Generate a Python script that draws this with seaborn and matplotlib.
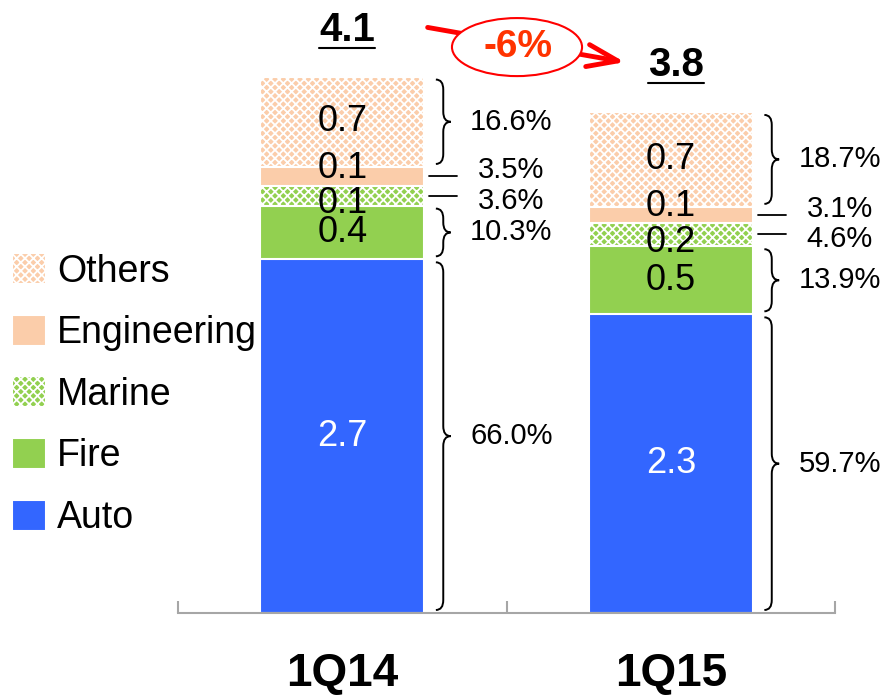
import numpy as np
import pandas as pd
import matplotlib.pyplot as plt
import matplotlib.patches as mpatches
from matplotlib.path import Path
import seaborn as sns


## data ##
quarters = ["1Q14", "1Q15"]
segments = ["Auto", "Fire", "Marine", "Engineering", "Others"]   # bottom -> top

auto = [2.70, 2.28]
fire = [0.41, 0.52]
marine = [0.15, 0.18]
engineering = [0.145, 0.12]
others = [0.69, 0.725]

value_labels = {
    "Auto": ["2.7", "2.3"],
    "Fire": ["0.4", "0.5"],
    "Marine": ["0.1", "0.2"],
    "Engineering": ["0.1", "0.1"],
    "Others": ["0.7", "0.7"],
}
pct_labels = {
    "Auto": ["66.0%", "59.7%"],
    "Fire": ["10.3%", "13.9%"],
    "Marine": ["3.6%", "4.6%"],
    "Engineering": ["3.5%", "3.1%"],
    "Others": ["16.6%", "18.7%"],
}
totals = ["4.1", "3.8"]
change = "-6%"


## style ##
sns.set_style("white")
plt.rcParams['font.family'] = ['Liberation Sans', 'DejaVu Sans']
plt.rcParams['text.color'] = 'black'
plt.rcParams['xtick.color'] = 'black'
plt.rcParams['hatch.linewidth'] = 1.3

colors = {"Auto": "#3366FF", "Fire": "#92D050", "Marine": "#92D050",
          "Engineering": "#FBCDAA", "Others": "#FBCDAA"}
hatches = {"Auto": None, "Fire": None, "Marine": "xxxx",
           "Engineering": None, "Others": "xxxx"}
# label nudges in pixels for the thin segments
nudge = {"Auto": 0, "Fire": 0, "Marine": -8, "Engineering": 8, "Others": 0}
pct_nudge = {"Auto": 0, "Fire": 0, "Marine": -5, "Engineering": 6, "Others": 0}
brace_segments = ["Auto", "Fire", "Others"]

values = {"Auto": auto, "Fire": fire, "Marine": marine,
          "Engineering": engineering, "Others": others}

W, H = 894, 697
px_per_y = 131.0
fig = plt.figure(figsize=(W / 100, H / 100), dpi=100)
ax = fig.add_axes([178 / W, 84 / H, 657 / W, 613 / H])

# cumulative tops
tops = {}
run = np.zeros(len(quarters))
for seg in segments:
    bottom = run.copy()
    run = run + np.array(values[seg])
    tops[seg] = (bottom, run.copy())

# draw from the top segment down so lower bars overlay
for seg in segments[::-1]:
    df = pd.DataFrame({"quarter": quarters, "top": tops[seg][1]})
    sns.barplot(data=df, x="quarter", y="top", color=colors[seg], saturation=1,
                width=0.5, edgecolor="white", linewidth=1.5, hatch=hatches[seg],
                label=seg, ax=ax)

ax.set_xlim(-0.5, 1.5)
ax.set_ylim(0, 613 / px_per_y)


## brace helper ##
def brace(ax, x, y0, y1, w, r):
    xm = x + w / 2
    ym = (y0 + y1) / 2
    verts = [(x, y0), (xm, y0), (xm, y0 + r),
             (xm, ym - r), (xm, ym), (x + w, ym),
             (xm, ym), (xm, ym + r),
             (xm, y1 - r), (xm, y1), (x, y1)]
    codes = [Path.MOVETO, Path.CURVE3, Path.CURVE3,
             Path.LINETO, Path.CURVE3, Path.CURVE3,
             Path.CURVE3, Path.CURVE3,
             Path.LINETO, Path.CURVE3, Path.CURVE3]
    ax.add_patch(mpatches.PathPatch(Path(verts, codes), fill=False,
                                    edgecolor="black", lw=1.4, clip_on=False))


## annotations ##
inset = 3 / px_per_y
for i, q in enumerate(quarters):
    for seg in segments:
        b, t = tops[seg][0][i], tops[seg][1][i]
        mid = (b + t) / 2
        ax.annotate(value_labels[seg][i], (i, mid), xytext=(0, nudge[seg] * 0.72),
                    textcoords="offset points", ha="center", va="center",
                    fontsize=26, color="white" if seg == "Auto" else "black",
                    annotation_clip=False)
        if seg in brace_segments:
            brace(ax, i + 0.285, b + inset, t - inset, 0.045, 10 / px_per_y)
        else:
            ax.plot([i + 0.265, i + 0.35], [mid, mid], color="black", lw=1.3,
                    clip_on=False)
        ax.annotate(pct_labels[seg][i], (i + 0.515, mid),
                    xytext=(0, pct_nudge[seg] * 0.72), textcoords="offset points",
                    ha="center", va="center", fontsize=21, annotation_clip=False)

# totals with underline
fig.canvas.draw()
renderer = fig.canvas.get_renderer()
for i, q in enumerate(quarters):
    top = tops["Others"][1][i]
    y_base = top + 36 / px_per_y
    t = ax.text(i + 0.015, y_base, totals[i], ha="center", va="baseline",
                fontsize=29, fontweight="bold", clip_on=False)
    bb = t.get_window_extent(renderer).transformed(ax.transData.inverted())
    yl = y_base - 7 / px_per_y
    ax.plot([bb.x0, bb.x1], [yl, yl], color="black", lw=1.5, clip_on=False)

# change arrow with ellipse
t0 = tops["Others"][1][0]
ax.annotate("", xy=(0.86, t0 + 0.11), xytext=(0.26, t0 + 0.375),
            arrowprops=dict(arrowstyle="->, head_length=2.2, head_width=0.8",
                            color="#FF0000", lw=3.5, shrinkA=0, shrinkB=0),
            annotation_clip=False, zorder=5)
ax.add_patch(mpatches.Ellipse((0.532, t0 + 0.225), width=0.396, height=0.443,
                              facecolor="white", edgecolor="#FF0000", lw=1.5,
                              clip_on=False, zorder=6))
ax.text(0.535, t0 + 0.225, change, ha="center", va="center", fontsize=28,
        fontweight="bold", color="#FF3300", zorder=7, clip_on=False)


## axes cosmetics ##
for s in ["left", "top", "right"]:
    ax.spines[s].set_visible(False)
ax.spines["bottom"].set_color("#A6A6A6")
ax.spines["bottom"].set_linewidth(1.5)
ax.set_yticks([])
ax.set_ylabel("")
ax.set_xlabel("")
ax.set_xticks([0, 1])
ax.set_xticklabels(quarters, fontsize=33, fontweight="bold")
ax.tick_params(axis="x", which="major", length=0, pad=28, bottom=True)
ax.set_xticks([-0.5, 0.5, 1.5], minor=True)
ax.tick_params(axis="x", which="minor", direction="in", length=9, width=1.5,
               color="#A6A6A6", bottom=True)

handles, labels = ax.get_legend_handles_labels()
ax.legend(handles, labels, loc="upper left", bbox_to_anchor=(12 / W, 1 - 253 / H),
          bbox_transform=fig.transFigure, frameon=False, fontsize=27,
          handlelength=0.9, handleheight=0.9, handletextpad=0.3,
          labelspacing=0.67, borderaxespad=0, borderpad=0)

plt.savefig("out.png", dpi=100)
